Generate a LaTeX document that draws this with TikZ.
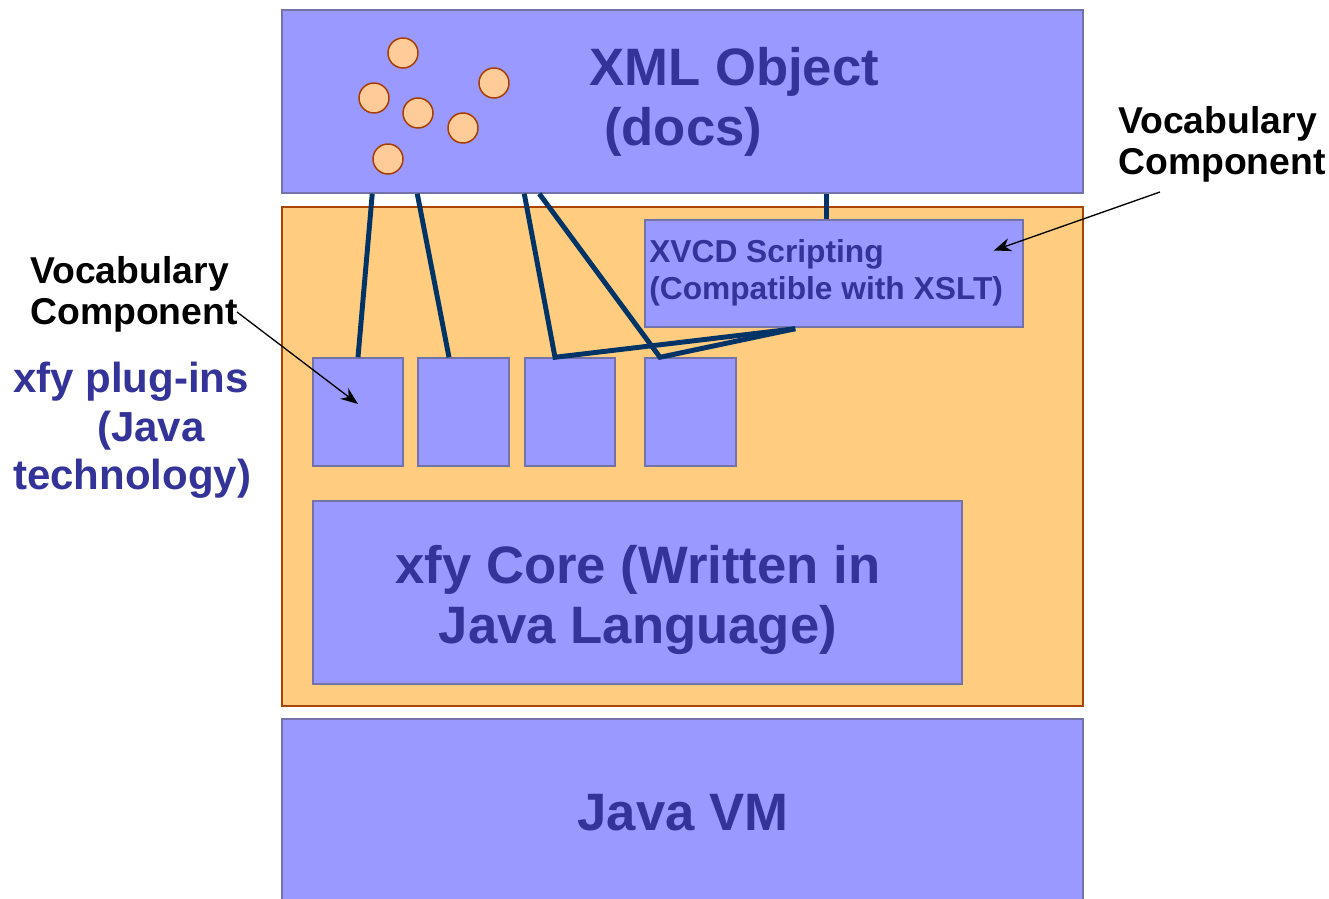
\documentclass[tikz,border=0pt]{standalone}
\usepackage{fontspec}
\setmainfont{Liberation Sans}
\usetikzlibrary{fit,calc,arrows.meta}
\definecolor{boxfill}{RGB}{153,153,255}
\definecolor{boxline}{RGB}{115,115,170}
\definecolor{orfill}{RGB}{255,204,128}
\definecolor{orline}{RGB}{170,68,0}
\definecolor{txtblue}{RGB}{51,51,153}
\definecolor{connc}{RGB}{0,51,102}
\definecolor{circfill}{RGB}{255,204,153}
\definecolor{circline}{RGB}{170,60,0}
\begin{document}
\begin{tikzpicture}[x=0.75pt,y=-0.75pt,
  bluebox/.style={fill=boxfill,draw=boxline,line width=1.1pt,inner sep=0pt},
  orbox/.style={fill=orfill,draw=orline,line width=1.1pt,inner sep=0pt},
  ball/.style={circle,fill=circfill,draw=circline,line width=1.1pt,minimum size=22.5pt,inner sep=0pt},
  conn/.style={draw=connc,line width=3.7pt},
  callout/.style={draw=black,line width=1pt,-{Stealth[length=13pt,width=10pt]}},
  bigtxt/.style={font=\bfseries\fontsize{39.5pt}{47pt}\selectfont,text=txtblue,inner sep=0pt},
  sidetxt/.style={font=\bfseries\fontsize{31.5pt}{38pt}\selectfont,text=txtblue,inner sep=0pt},
  vocab/.style={font=\bfseries\fontsize{28pt}{33pt}\selectfont,text=black,inner sep=0pt},
  smalltxt/.style={font=\bfseries\fontsize{23.8pt}{28pt}\selectfont,text=txtblue,inner sep=0pt}]
\clip (0,0) rectangle (1329,899);
\fill[white] (0,0) rectangle (1329,899);
% main boxes
\node[bluebox,fit={(282,10)(1083,193)}] (xml) {};
\node[orbox,fit={(282,207)(1083,706)}] (xfy) {};
\node[bluebox,fit={(282,719)(1083,910)}] (jvm) {};
\node[bluebox,fit={(313,501)(962,684)}] (core) {};
\node[bluebox,fit={(645,220)(1023,327)}] (xvcd) {};
\node[bluebox,fit={(313,358)(403,466)}] (p1) {};
\node[bluebox,fit={(418,358)(509,466)}] (p2) {};
\node[bluebox,fit={(525,358)(615,466)}] (p3) {};
\node[bluebox,fit={(645,358)(736,466)}] (p4) {};
% circles
\node[ball] (c1) at (403,53) {};
\node[ball] (c2) at (374,98) {};
\node[ball] (c3) at (418,113) {};
\node[ball] (c4) at (494,83) {};
\node[ball] (c5) at (463,128) {};
\node[ball] (c6) at (388,159) {};
% texts
\node[bigtxt,anchor=base west] (t1) at (589,86) {XML Object};
\node[bigtxt,anchor=base west] (t2) at (604,146) {(docs)};
\node[bigtxt,anchor=base] (t3) at (638,583) {xfy Core (Written in};
\node[bigtxt,anchor=base] (t4) at (638,643) {Java Language)};
\node[bigtxt,anchor=base] (t5) at (683,830) {Java VM};
\node[smalltxt,anchor=base west] (t6) at (649,262) {XVCD Scripting};
\node[smalltxt,anchor=base west] (t7) at (649,299) {(Compatible with XSLT)};
\node[vocab,anchor=base west] (vr1) at (1118,133) {Vocabulary};
\node[vocab,anchor=base west] (vr2) at (1118,175) {Component};
\node[vocab,anchor=base west] (vl1) at (30,283) {Vocabulary};
\node[vocab,anchor=base west] (vl2) at (30,324) {Component};
\node[sidetxt,anchor=base west] (s1) at (13,392) {xfy plug-ins};
\node[sidetxt,anchor=base west] (s2) at (97,441) {(Java};
\node[sidetxt,anchor=base west] (s3) at (13,489) {technology)};
% connectors
\coordinate (x1) at ($(xml.south west)+(91,0)$);
\coordinate (x2) at ($(xml.south west)+(136,0)$);
\coordinate (x3) at ($(xml.south west)+(243,0)$);
\coordinate (x4) at ($(xml.south west)+(258,0)$);
\coordinate (x5) at ($(xml.south west)+(545,0)$);
\coordinate (q2) at ($(p2.north)+(-14.5,0)$);
\coordinate (q3) at ($(p3.north)+(-15,0)$);
\coordinate (q4) at ($(p4.north)+(-30.5,0)$);
\coordinate (v1) at ($(xvcd.south west)+(151,1)$);
\draw[conn] (x1) -- (p1.north);
\draw[conn] (x2) -- (q2);
\draw[conn] (x3) -- (q3) -- (v1);
\draw[conn] (x4) -- (q4) -- (v1);
\draw[conn] (x5) -- (x5 |- xvcd.north);
% callouts
\coordinate (a1) at (1160,192);
\coordinate (a2) at (237,312);
\draw[callout] (a1) -- ($(xvcd.east)+(-30,-23)$);
\draw[callout] (a2) -- ($(p1.center)+(0,-8)$);
\end{tikzpicture}
\end{document}
